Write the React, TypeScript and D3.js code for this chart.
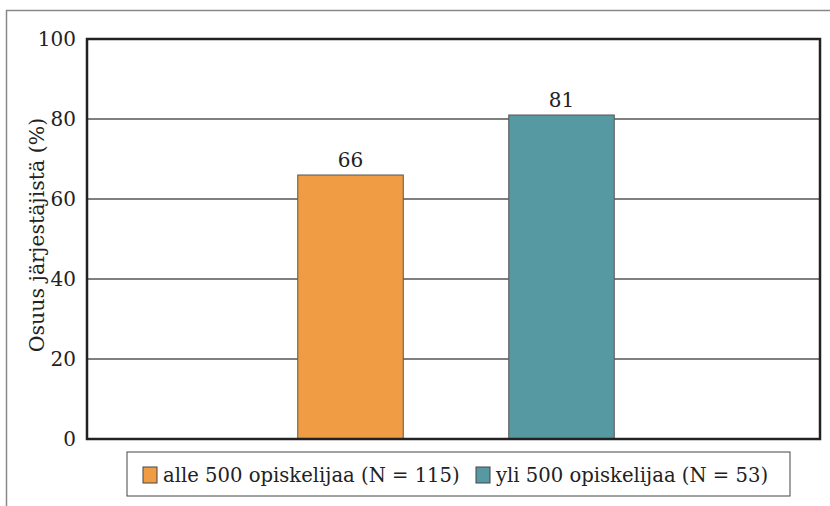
import React from "react";
import * as d3 from "d3";

const categories = ["all"];
const seriesNames = ["alle 500 opiskelijaa (N = 115)", "yli 500 opiskelijaa (N = 53)"];
const seriesValues = [66, 81];
const seriesColors = ["#F09C44", "#5699A2"];
const yTicks = [0, 20, 40, 60, 80, 100];
const yTitle = "Osuus järjestäjistä (%)";

export default function App() {
  const W = 830, H = 506;
  const left = 87, right = 820, top = 39, bottom = 439;
  const y = d3.scaleLinear().domain([0, 100]).range([bottom, top]);
  const x0 = d3.scaleBand().domain(categories).range([left, right]).paddingInner(0).paddingOuter(0);
  const bw = 105.5;
  const x1 = d3.scaleBand().domain(seriesNames).range([0, bw * 3]).paddingInner(1 / 2).paddingOuter(0);
  const groupStart = (x0("all") as number) + x0.bandwidth() / 2 - bw * 1.5 + 2.5;
  const font = "DejaVu Serif";
  const legendX = 127, legendY = 452, legendW = 663, legendH = 44;
  const legendItems = [143, 476];
  return (
    <svg width={W} height={H} style={{ position: "absolute", left: 0, top: 0 }} fontFamily={font}>
      <rect x={0} y={0} width={W} height={H} fill="#fff" />
      <line x1={6} x2={W} y1={10.5} y2={10.5} stroke="#888" strokeWidth={1.5} />
      <line x1={6.5} x2={6.5} y1={10} y2={H} stroke="#888" strokeWidth={1.5} />
      {yTicks.filter(t => t > 0 && t < 100).map(t => (
        <line key={t} x1={left} x2={right} y1={y(t)} y2={y(t)} stroke="#555" strokeWidth={1.5} />
      ))}
      {seriesNames.map((s, i) => {
        const bx = groupStart + (x1(s) as number);
        return (
          <g key={s}>
            <rect x={bx} y={y(seriesValues[i])} width={x1.bandwidth()} height={bottom - y(seriesValues[i])}
              fill={seriesColors[i]} stroke="#555" strokeWidth={1} />
            <text x={bx + x1.bandwidth() / 2} y={y(seriesValues[i]) - 8} textAnchor="middle" fontSize={20} fill="#222">
              {seriesValues[i]}
            </text>
          </g>
        );
      })}
      <rect x={left} y={top} width={right - left} height={bottom - top} fill="none" stroke="#222" strokeWidth={2.5} />
      {yTicks.map(t => (
        <text key={t} x={76} y={y(t) + 7} textAnchor="end" fontSize={20} fill="#222">{t}</text>
      ))}
      <text transform={`translate(44,235) rotate(-90)`} textAnchor="middle" fontSize={20.5} fill="#222">
        {yTitle}
      </text>
      <rect x={legendX} y={legendY} width={legendW} height={legendH} fill="#fff" stroke="#444" strokeWidth={1} />
      {seriesNames.map((s, i) => (
        <g key={s}>
          <rect x={legendItems[i]} y={legendY + 15} width={14} height={16} fill={seriesColors[i]} stroke="#444" strokeWidth={1} />
          <text x={legendItems[i] + 20} y={legendY + 30} fontSize={19.6} fill="#222">{s}</text>
        </g>
      ))}
    </svg>
  );
}
